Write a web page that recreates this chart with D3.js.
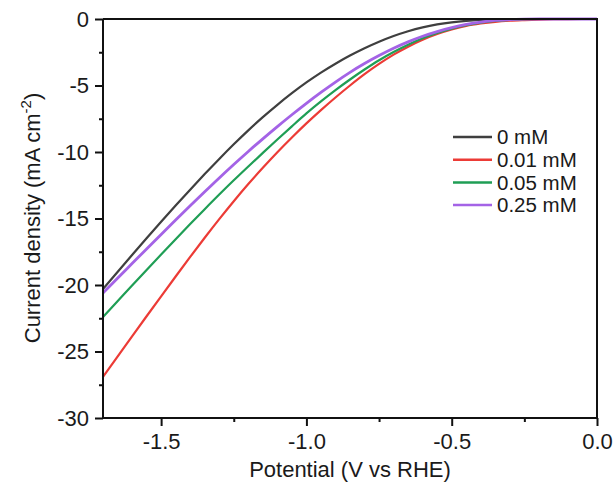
<!DOCTYPE html>
<html><head><meta charset="utf-8">
<script src="https://cdn.jsdelivr.net/npm/d3@7"></script>
<style>
body{margin:0;background:#fff;}
text{font-family:"Liberation Sans",Arial,sans-serif;fill:#1a1a1a;}
</style></head>
<body><svg id="c" width="616" height="486"></svg>
<script>
const potential = [-1.70,-1.65,-1.60,-1.55,-1.50,-1.45,-1.40,-1.35,-1.30,-1.25,-1.20,-1.15,-1.10,-1.05,-1.00,-0.95,-0.90,-0.85,-0.80,-0.75,-0.70,-0.65,-0.60,-0.55,-0.50,-0.45,-0.40,-0.35,-0.30,-0.25,-0.20,-0.15,-0.10,-0.05,0.00];
const seriesNames = ["0 mM","0.01 mM","0.05 mM","0.25 mM"];
const seriesColors = ["#3f3f3f","#ec3b36","#1f9e55","#a463e6"];
const j0mM   = [-20.3,-19.02,-17.75,-16.49,-15.25,-14.03,-12.83,-11.66,-10.52,-9.42,-8.37,-7.38,-6.45,-5.58,-4.77,-4.03,-3.36,-2.75,-2.20,-1.71,-1.28,-0.92,-0.63,-0.41,-0.25,-0.14,-0.07,-0.03,-0.01,0,0,0,0,0,0];
const j001mM = [-26.9,-25.38,-23.86,-22.35,-20.85,-19.36,-17.89,-16.45,-15.05,-13.70,-12.41,-11.19,-10.02,-8.91,-7.85,-6.85,-5.90,-5.00,-4.15,-3.38,-2.68,-2.08,-1.56,-1.13,-0.79,-0.52,-0.34,-0.21,-0.13,-0.08,-0.04,-0.02,-0.01,0,0];
const j005mM = [-22.4,-21.22,-20.04,-18.87,-17.71,-16.56,-15.42,-14.30,-13.20,-12.13,-11.09,-10.07,-9.06,-8.07,-7.10,-6.20,-5.35,-4.55,-3.80,-3.10,-2.48,-1.93,-1.45,-1.05,-0.72,-0.46,-0.27,-0.14,-0.06,-0.02,0,0,0,0,0];
const j025mM = [-20.6,-19.49,-18.39,-17.29,-16.20,-15.12,-14.05,-12.99,-11.95,-10.94,-9.96,-9.01,-8.09,-7.20,-6.34,-5.52,-4.74,-4.01,-3.35,-2.75,-2.20,-1.72,-1.30,-0.95,-0.65,-0.41,-0.23,-0.11,-0.04,-0.01,0,0,0,0,0];
const xMajorTicks = [-1.5,-1.0,-0.5,0.0];
const xMinorTicks = [-1.25,-0.75,-0.25];
const yMajorTicks = [0,-5,-10,-15,-20,-25,-30];
const yMinorTicks = [-2.5,-7.5,-12.5,-17.5,-22.5,-27.5];
const xLabel = "Potential (V vs RHE)";

const allSeries = [j0mM,j001mM,j005mM,j025mM];
const svg = d3.select("#c");
const L=103, R=597, T=19, B=418;
const x = d3.scaleLinear().domain([-1.7,0]).range([L,R]);
const y = d3.scaleLinear().domain([-30,0]).range([B,T]);
const hy = s => s.replace("\u2212","-");
const FONT = '"Liberation Sans",Arial,sans-serif';

// curves
const line = d3.line().x(d=>x(d[0])).y(d=>y(d[1])).curve(d3.curveMonotoneX);
allSeries.forEach((s,i)=>{
  svg.append("path").datum(potential.map((p,k)=>[p,s[k]]))
    .attr("d",line).attr("fill","none").attr("stroke",seriesColors[i])
    .attr("stroke-width", i===3?2.8:2.2).attr("stroke-linejoin","round");
});

// axes
const axG = svg.append("g");
const xAxis = axG.append("g").attr("transform",`translate(0,${B})`)
  .call(d3.axisBottom(x).tickValues(xMajorTicks).tickSize(8).tickPadding(7).tickFormat(d=>hy(d3.format(".1f")(d))));
const xMinor = axG.append("g").attr("transform",`translate(0,${B})`)
  .call(d3.axisBottom(x).tickValues(xMinorTicks).tickSize(4).tickFormat(""));
const yAxis = axG.append("g").attr("transform",`translate(${L},0)`)
  .call(d3.axisLeft(y).tickValues(yMajorTicks).tickSize(8).tickPadding(6).tickFormat(d=>hy(d3.format("d")(d))));
const yMinor = axG.append("g").attr("transform",`translate(${L},0)`)
  .call(d3.axisLeft(y).tickValues(yMinorTicks).tickSize(4).tickFormat(""));
[xAxis,xMinor,yAxis,yMinor].forEach(g=>{
  g.selectAll("path.domain").attr("stroke","#111").attr("stroke-width",2);
  g.selectAll(".tick line").attr("stroke","#111").attr("stroke-width",2);
  g.selectAll(".tick text").style("font-family",FONT).style("font-size","22px").attr("fill","#1a1a1a");
});
xAxis.selectAll("path.domain").attr("d",`M${L},0H${R}`);
xMinor.selectAll("path.domain").remove();
yMinor.selectAll("path.domain").remove();
yAxis.selectAll("path.domain").attr("d",`M0,${B}V${T}`);
// top and right borders
svg.append("line").attr("x1",L).attr("x2",R+1).attr("y1",T).attr("y2",T).attr("stroke","#111").attr("stroke-width",2);
svg.append("line").attr("x1",R).attr("x2",R).attr("y1",T).attr("y2",B+1).attr("stroke","#111").attr("stroke-width",2);

// axis titles
svg.append("text").attr("x",(L+R)/2).attr("y",477).attr("text-anchor","middle")
  .style("font-size","22px").text(xLabel);
const yt = svg.append("text").attr("transform","translate(40,218) rotate(-90)").attr("text-anchor","middle").style("font-size","22px");
yt.append("tspan").text("Current density (mA cm");
yt.append("tspan").attr("dy",-9).style("font-size","15px").text("-2");
yt.append("tspan").attr("dy",9).text(")");

// legend
const lg = svg.append("g");
seriesNames.forEach((n,i)=>{
  const yy = 137 + i*22.7;
  lg.append("line").attr("x1",453).attr("x2",492).attr("y1",yy).attr("y2",yy)
    .attr("stroke",seriesColors[i]).attr("stroke-width",2.5);
  lg.append("text").attr("x",497).attr("y",yy+7.3).style("font-size","20.5px").text(n);
});
</script></body></html>
